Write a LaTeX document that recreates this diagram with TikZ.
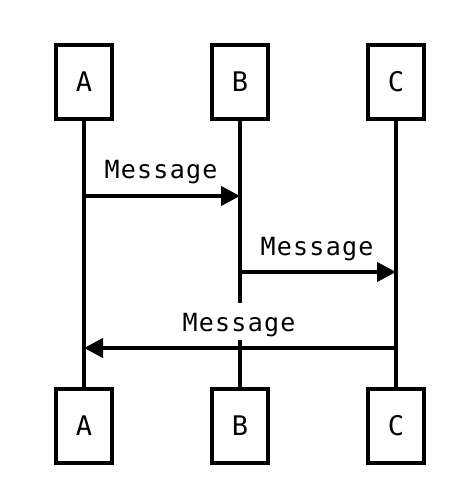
\documentclass[tikz,border=0pt]{standalone}
\usepackage{fontspec}
\setmonofont{DejaVu Sans Mono}
\newfontfamily\msgfont[LetterSpace=5]{DejaVu Sans Mono}
\usetikzlibrary{arrows.meta}
\begin{document}
\begin{tikzpicture}[x=1bp,y=-1bp,
  actor/.style={draw,line width=4bp,minimum width=56bp,minimum height=74bp,inner sep=0pt,
    font=\ttfamily\fontsize{27bp}{30bp}\selectfont},
  life/.style={line width=4bp},
  msg/.style={line width=4bp,-{Triangle[length=19bp,width=19bp]}},
  msglabel/.style={anchor=base,fill=white,inner xsep=2bp,inner ysep=0pt,text height=28bp,text depth=9bp,
    font=\msgfont\fontsize{25bp}{28bp}\selectfont}]
\useasboundingbox (0,0) rectangle (470,504);
\node[actor] (At) at (84,82) {A};
\node[actor] (Bt) at (240,82) {B};
\node[actor] (Ct) at (396,82) {C};
\node[actor] (Ab) at (84,425.5) {A};
\node[actor] (Bb) at (240,425.5) {B};
\node[actor] (Cb) at (396,425.5) {C};
\draw[life] (At) -- (Ab);
\draw[life] (Bt) -- (Bb);
\draw[life] (Ct) -- (Cb);
\coordinate (a1) at (84,196);
\coordinate (b1) at (240,196);
\coordinate (b2) at (240,272);
\coordinate (c2) at (396,272);
\coordinate (c3) at (396,348);
\coordinate (a3) at (84,348);
\draw[msg] (a1) -- (b1);
\draw[msg] (b2) -- (c2);
\draw[msg] (c3) -- (a3);
\node[msglabel] (l1) at (161,179) {Message};
\node[msglabel] (l2) at (317,255) {Message};
\node[msglabel] (l3) at (239,331) {Message};
\end{tikzpicture}
\end{document}
